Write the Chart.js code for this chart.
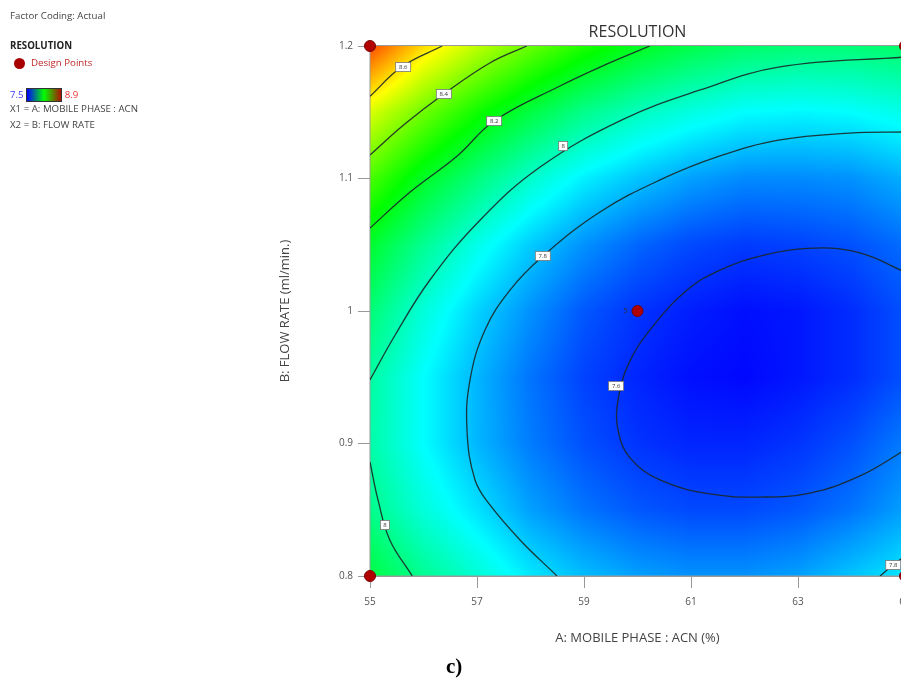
<!DOCTYPE html>
<html>
<head>
<meta charset="utf-8">
<script src="https://cdn.jsdelivr.net/npm/chart.js@4/dist/chart.umd.min.js"></script>
<style>
  html, body { margin: 0; padding: 0; width: 901px; height: 681px; overflow: hidden; background: #fff; }
  #wrap { position: absolute; left: 0; top: 0; width: 940px; height: 681px; }
  .info { position: absolute; left: 10px; font-family: "Open Sans", "Noto Sans", sans-serif; font-size: 9.7px; color: #444; white-space: nowrap; line-height: 11px; }
  .dot { display: inline-block; width: 11px; height: 11px; border-radius: 50%; background: #a80000; vertical-align: middle; margin-right: 6px; margin-left: 4px; }
  .bar { display: inline-block; width: 34px; height: 12px; border: 1px solid #333; vertical-align: middle; margin: 0 3px 0 2px;
         background: linear-gradient(to right, #0000ff, #00ff00 50%, #b01000); }
  #caption { position: absolute; left: 446px; top: 654px; font-family: "Liberation Serif", "DejaVu Serif", serif; font-weight: bold; font-size: 21px; color: #000; }
</style>
</head>
<body>
<div id="wrap"><canvas id="chart" width="940" height="681"></canvas></div>
<div class="info" style="top:10px">Factor Coding: Actual</div>
<div class="info" style="top:40px; font-weight:bold; color:#222">RESOLUTION</div>
<div class="info" style="top:57px; color:#c02828"><span class="dot"></span>Design Points</div>
<div class="info" style="top:88px"><span style="color:#4040ff">7.5</span><span class="bar"></span><span style="color:#f03030">8.9</span></div>
<div class="info" style="top:103px">X1 = A: MOBILE PHASE : ACN</div>
<div class="info" style="top:119px">X2 = B: FLOW RATE</div>
<div id="caption">c)</div>
<script>
// factor levels of the response grid
let grid_a = [55, 56, 57, 58, 59, 60, 61, 62, 63, 64, 65];
let grid_b = [1.2, 1.15, 1.1, 1.05, 1.0, 0.95, 0.9, 0.85, 0.8];
// estimated resolution at each grid node, one row per flow rate
let resolution_grid = [
    [8.80, 8.60, 8.46, 8.34, 8.24, 8.16, 8.10, 8.06, 8.04, 8.04, 8.06],
    [8.50, 8.35, 8.22, 8.11, 8.01, 7.94, 7.89, 7.85, 7.84, 7.85, 7.88],
    [8.30, 8.15, 8.03, 7.92, 7.83, 7.77, 7.72, 7.69, 7.69, 7.70, 7.74],
    [8.14, 8.00, 7.88, 7.78, 7.70, 7.64, 7.60, 7.58, 7.59, 7.61, 7.65],
    [8.04, 7.90, 7.79, 7.70, 7.62, 7.57, 7.54, 7.52, 7.53, 7.56, 7.61],
    [7.98, 7.85, 7.75, 7.66, 7.59, 7.55, 7.52, 7.51, 7.53, 7.56, 7.61],
    [7.97, 7.85, 7.75, 7.67, 7.61, 7.57, 7.55, 7.55, 7.57, 7.61, 7.67],
    [8.01, 7.90, 7.81, 7.72, 7.66, 7.62, 7.60, 7.60, 7.62, 7.66, 7.72],
    [8.11, 8.00, 7.91, 7.82, 7.76, 7.72, 7.70, 7.70, 7.72, 7.77, 7.82],
];
let colour_min = 7.5;
let colour_max = 8.9;

// contour lines, [A, B] pairs
let contour_86 = [[55, 1.162], [55.6, 1.1845], [56.35, 1.2]];
let contour_84 = [[55, 1.1177], [55.65, 1.1411], [56.38, 1.1638], [57.24, 1.1872], [57.93, 1.2]];
let contour_82 = [[55, 1.0626], [55.75, 1.0898], [56.63, 1.117], [57.32, 1.1434], [58.55, 1.1698], [59.39, 1.1857], [60.23, 1.2]];
let contour_80_top = [[55, 0.948], [55.47, 0.9819], [56.12, 1.0234], [57.06, 1.0687], [58.18, 1.1087], [59.71, 1.1442],
                      [61.17, 1.1668], [62.66, 1.1842], [65, 1.1917]];
let contour_80_low = [[55, 0.886], [55.15, 0.8574], [55.37, 0.8272], [55.79, 0.8]];
let contour_78 = [[58.495, 0.8], [57.804, 0.8272], [57.243, 0.8536], [56.963, 0.8725], [56.813, 0.9102], [56.869, 0.9479],
                  [57.15, 0.9857], [57.617, 1.0158], [58.234, 1.0415], [59.299, 1.0747], [60.421, 1.0989], [61.542, 1.117],
                  [62.664, 1.1291], [63.972, 1.1343], [65, 1.1351]];
let contour_78_corner = [[64.533, 0.8], [64.776, 0.8083], [65, 0.8151]];
let contour_76 = [[65, 1.0294], [64.159, 1.0438], [63.318, 1.0475], [62.29, 1.0415], [61.542, 1.0309], [60.925, 1.0158],
                  [60.234, 0.9857], [59.822, 0.9592], [59.636, 0.9328], [59.636, 0.9102], [59.86, 0.8891], [60.421, 0.8725],
                  [61.355, 0.8619], [62.29, 0.8596], [63.224, 0.8626], [64.159, 0.8755], [65, 0.8951]];

let label_text = ['8.6', '8.4', '8.2', '8', '7.8', '7.6', '8', '7.8'];
let label_a = [55.62, 56.38, 57.32, 58.61, 58.23, 59.6, 55.28, 64.78];
let label_b = [1.1842, 1.1638, 1.1434, 1.1245, 1.0415, 0.9434, 0.8385, 0.8083];

// design points and their replicate counts
let design_a = [55, 65, 60, 55, 65];
let design_b = [1.2, 1.2, 1.0, 0.8, 0.8];
let design_count = ['', '', '5', '', ''];

let colour_stops = [
    [0, [0, 0, 255]],
    [0.25, [0, 255, 255]],
    [0.5, [0, 255, 0]],
    [0.75, [255, 255, 0]],
    [1, [255, 0, 0]],
];

let colour_for = function(v) {
    let t = Math.min(1, Math.max(0, (v - colour_min) / (colour_max - colour_min)));
    for (let i = 1; i < colour_stops.length; i++) {
        if (t <= colour_stops[i][0]) {
            let [t0, c0] = colour_stops[i - 1];
            let [t1, c1] = colour_stops[i];
            let f = (t - t0) / (t1 - t0);
            return c0.map((c, k) => c + (c1[k] - c) * f);
        }
    }
    return colour_stops[colour_stops.length - 1][1];
};

let sample_grid = function(a, b) {
    let fi = (a - grid_a[0]) / (grid_a[1] - grid_a[0]);
    let fj = (grid_b[0] - b) / (grid_b[0] - grid_b[1]);
    fi = Math.min(grid_a.length - 1.0001, Math.max(0, fi));
    fj = Math.min(grid_b.length - 1.0001, Math.max(0, fj));
    let i = Math.floor(fi), j = Math.floor(fj);
    let u = fi - i, w = fj - j;
    let g = resolution_grid;
    return g[j][i] * (1 - u) * (1 - w) + g[j][i + 1] * u * (1 - w) +
           g[j + 1][i] * (1 - u) * w + g[j + 1][i + 1] * u * w;
};

let to_points = pairs => pairs.map(p => ({x: p[0], y: p[1]}));

let surface_plugin = {
    id: 'surface',
    beforeDatasetsDraw(chart) {
        let {ctx, chartArea: area, scales} = chart;
        let w = Math.round(area.right - area.left), h = Math.round(area.bottom - area.top);
        let off = document.createElement('canvas');
        off.width = w;
        off.height = h;
        let octx = off.getContext('2d');
        let img = octx.createImageData(w, h);
        for (let j = 0; j < h; j++) {
            let b = scales.y.getValueForPixel(area.top + j + 0.5);
            for (let i = 0; i < w; i++) {
                let a = scales.x.getValueForPixel(area.left + i + 0.5);
                let c = colour_for(sample_grid(a, b));
                let k = (j * w + i) * 4;
                img.data[k] = c[0];
                img.data[k + 1] = c[1];
                img.data[k + 2] = c[2];
                img.data[k + 3] = 255;
            }
        }
        octx.putImageData(img, 0, 0);
        ctx.save();
        ctx.drawImage(off, area.left, area.top);
        ctx.strokeStyle = '#9a9a9a';
        ctx.lineWidth = 1;
        ctx.strokeRect(area.left, area.top - 0.5, w, h + 0.5);
        ctx.restore();
    },
    afterDatasetsDraw(chart) {
        let {ctx, chartArea: area, scales} = chart;
        ctx.save();
        ctx.font = '6px "Open Sans", sans-serif';
        ctx.textAlign = 'center';
        ctx.textBaseline = 'middle';
        label_text.forEach((t, i) => {
            let px = scales.x.getPixelForValue(label_a[i]);
            let py = scales.y.getPixelForValue(label_b[i]);
            let bw = t.length > 1 ? 15 : 9;
            ctx.fillStyle = '#ffffff';
            ctx.fillRect(px - bw / 2, py - 4.5, bw, 9);
            ctx.strokeStyle = '#777';
            ctx.lineWidth = 0.8;
            ctx.strokeRect(px - bw / 2, py - 4.5, bw, 9);
            ctx.fillStyle = '#333';
            ctx.fillText(t, px, py + 0.5);
        });
        ctx.font = '7px "Open Sans", sans-serif';
        ctx.fillStyle = '#333';
        design_count.forEach((t, i) => {
            if (!t) return;
            ctx.fillText(t, scales.x.getPixelForValue(design_a[i]) - 12, scales.y.getPixelForValue(design_b[i]));
        });
        // chart title over the plot area
        ctx.font = '16px "Open Sans", sans-serif';
        ctx.fillStyle = '#333';
        ctx.fillText('RESOLUTION', (area.left + area.right) / 2, 32);
        ctx.restore();
    }
};

let contour_style = {
    showLine: true,
    pointRadius: 0,
    borderColor: 'rgba(25, 40, 40, 0.9)',
    borderWidth: 1.3,
    tension: 0.4,
    fill: false,
};

let contours = [contour_86, contour_84, contour_82, contour_80_top, contour_80_low, contour_78, contour_78_corner, contour_76];

let ctx = document.getElementById('chart').getContext('2d');
let chart = new Chart(ctx, {
    type: 'scatter',
    data: {
        datasets: contours.map(c => Object.assign({data: to_points(c)}, contour_style)).concat([{
            label: 'Design Points',
            data: design_a.map((a, i) => ({x: a, y: design_b[i]})),
            pointRadius: 5.5,
            backgroundColor: '#b00000',
            borderColor: '#7a0000',
            borderWidth: 1,
            clip: false,
        }]),
    },
    options: {
        responsive: false,
        animation: false,
        devicePixelRatio: 1,
        layout: {padding: {left: 274, top: 46, right: 35, bottom: 30}},
        plugins: {legend: {display: false}, tooltip: {enabled: false}, title: {display: false}},
        scales: {
            x: {
                type: 'linear',
                min: 55, max: 65,
                afterFit: s => { s.height = 75; },
                ticks: {stepSize: 2, padding: 8, color: '#555', font: {family: '"Open Sans", sans-serif', size: 10}},
                grid: {drawOnChartArea: false, tickLength: 12, color: '#999'},
                border: {color: '#999'},
                title: {display: true, text: 'A: MOBILE PHASE : ACN (%)', color: '#444',
                        font: {family: '"Open Sans", sans-serif', size: 13}, padding: {top: 0, bottom: 5}},
            },
            y: {
                type: 'linear',
                min: 0.8, max: 1.2,
                afterFit: s => { s.width = 96; },
                ticks: {stepSize: 0.1, padding: 5, color: '#555', font: {family: '"Open Sans", sans-serif', size: 10},
                        callback: v => String(Number(v.toFixed(2)))},
                grid: {drawOnChartArea: false, tickLength: 12, color: '#999'},
                border: {color: '#999'},
                title: {display: true, text: 'B: FLOW RATE (ml/min.)', color: '#444',
                        font: {family: '"Open Sans", sans-serif', size: 13}, padding: {top: 3, bottom: 0}},
            },
        },
    },
    plugins: [surface_plugin],
});
</script>
</body>
</html>
